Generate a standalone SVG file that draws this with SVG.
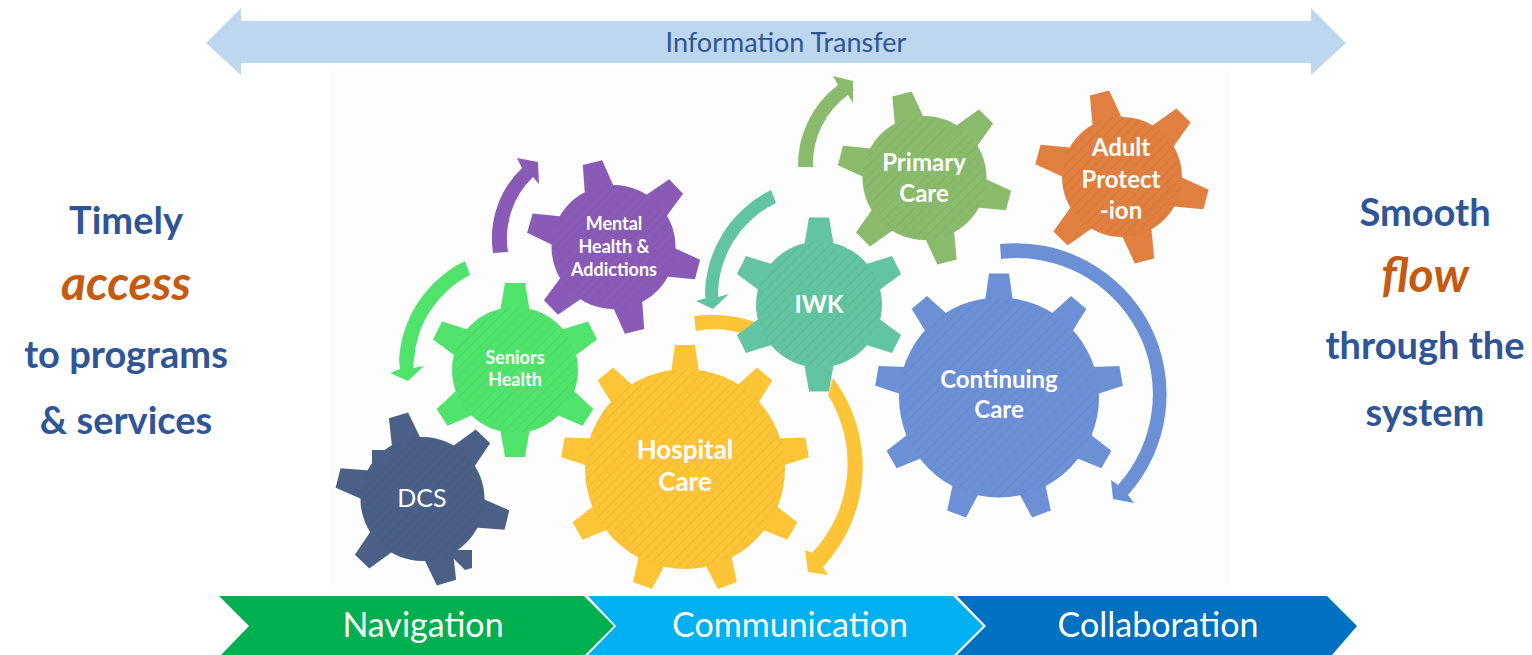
<svg xmlns="http://www.w3.org/2000/svg" xmlns:xlink="http://www.w3.org/1999/xlink" width="1532" height="655" viewBox="0 0 1532 655">
<style>
text{font-family:"Lato","Liberation Sans",sans-serif;text-anchor:middle}
.lbl{fill:#fff;font-weight:700}
.side{fill:#2f5597;font-weight:700;font-size:38px}
.em{fill:#c55a11;font-weight:700;font-style:italic;font-size:48px}
.band{fill:#fff;font-size:34px}
.hatch{fill:url(#hatch)}
</style>
<defs>
<pattern id="hatch" width="7" height="7" patternUnits="userSpaceOnUse" patternTransform="rotate(45)"><line x1="0" y1="0" x2="0" y2="7" stroke="#000" stroke-opacity=".06" stroke-width="1.5"/></pattern>
<polygon id="ts" points="-15,-58 -10,-87 10,-87 15,-58"/>
<polygon id="tb" points="-14,-96 -10,-124 10,-124 14,-96"/>
</defs>
<rect width="1532" height="655" fill="#fff"/>
<rect x="330" y="65" width="900" height="525" fill="#fdfdfd"/>

<g id="info-transfer">
<polygon points="206,43 241,8 241,21 1311,21 1311,8 1346,43 1311,75 1311,63 241,63 241,75" fill="#bdd7ee"/>
<text x="786" y="52" font-size="27" fill="#2f5597">Information Transfer</text>
</g>

<g id="connectors">
<path fill="#8a5bb6" d="M493,253 A97,97 0 0 1 522,168 L517,158 L538,162 L539,184 L533,177 A85,85 0 0 0 508,252 Z"/>
<path fill="#50e36c" d="M465,261 A118,118 0 0 0 399,360 L400,369 L390,373 L408,381 L424,366 L413,368 L414,360 A103,103 0 0 1 470,275 Z"/>
<path fill="#62c4a0" d="M771,190 A118,118 0 0 0 705,296 L706,298 L696,301 L713,309 L729,294 L718,297 A103,103 0 0 1 776,203 Z"/>
<path fill="#fdc438" d="M694,316 Q725,312 755,322 L743,334 Q720,326 696,331 Z"/>
<path fill="#fdc438" d="M833,378 A147,147 0 0 1 823,567 L828,575 L808,572 L805,550 L812,553 A130,130 0 0 0 828,395 Z"/>
<path fill="#6b90d6" d="M1000,244 A151,151 0 0 1 1128,495 L1134,503 L1113,499 L1111,480 L1118,485 A136,136 0 0 0 1001,259 Z"/>
<path fill="#8abb6c" d="M798,167 A100,100 0 0 1 838,85 L833,76 L853,81 L853,103 L848,95 A85,85 0 0 0 813,167 Z"/>
</g>

<g id="gear-dcs" fill="#4a6087">
<g transform="translate(422.5,499)"><circle r="62"/><use href="#ts" transform="rotate(-16)"/><use href="#ts" transform="rotate(44)"/><use href="#ts" transform="rotate(104)"/><use href="#ts" transform="rotate(164)"/><use href="#ts" transform="rotate(224)"/><use href="#ts" transform="rotate(284)"/><circle r="62" class="hatch"/></g>
<polygon points="372,450 372,470 395,450 390,450"/><polygon points="472,550 445,550 465,570 472,568"/>
<text x="422" y="507" font-size="25" class="lbl" style="font-weight:400">DCS</text>
</g>

<g id="gear-seniors" fill="#50e36c">
<g transform="translate(515,370)"><circle r="63"/><use href="#ts" transform="rotate(0)"/><use href="#ts" transform="rotate(63)"/><use href="#ts" transform="rotate(123)"/><use href="#ts" transform="rotate(180)"/><use href="#ts" transform="rotate(237)"/><use href="#ts" transform="rotate(297)"/><circle r="63" class="hatch"/></g>
<text class="lbl" font-size="18" text-anchor="middle"><tspan x="515" y="364">Seniors</tspan><tspan x="515" y="386">Health</tspan></text>
</g>

<g id="gear-mental" fill="#8a5bb6">
<g transform="translate(613.5,247)"><circle r="62"/><use href="#ts" transform="rotate(-14)"/><use href="#ts" transform="rotate(46)"/><use href="#ts" transform="rotate(105)"/><use href="#ts" transform="rotate(166)"/><use href="#ts" transform="rotate(226)"/><use href="#ts" transform="rotate(286)"/><circle r="62" class="hatch"/></g>
<text class="lbl" font-size="18"><tspan x="614" y="230">Mental</tspan><tspan x="614" y="253">Health &amp;</tspan><tspan x="614" y="276">Addictions</tspan></text>
</g>

<g id="gear-hospital" fill="#fdc438">
<g transform="translate(685,469)"><circle r="100"/><use href="#tb" transform="rotate(0)"/><use href="#tb" transform="rotate(40)"/><use href="#tb" transform="rotate(80)"/><use href="#tb" transform="rotate(120)"/><use href="#tb" transform="rotate(160)"/><use href="#tb" transform="rotate(200)"/><use href="#tb" transform="rotate(240)"/><use href="#tb" transform="rotate(280)"/><use href="#tb" transform="rotate(320)"/><circle r="100" class="hatch"/></g>
<text class="lbl" font-size="26"><tspan x="685" y="459">Hospital</tspan><tspan x="685" y="491">Care</tspan></text>
</g>

<g id="gear-iwk" fill="#62c4a0">
<g transform="translate(819,304.5)"><circle r="63"/><use href="#ts" transform="rotate(0)"/><use href="#ts" transform="rotate(63)"/><use href="#ts" transform="rotate(117)"/><use href="#ts" transform="rotate(180)"/><use href="#ts" transform="rotate(243)"/><use href="#ts" transform="rotate(297)"/><circle r="63" class="hatch"/></g>
<text class="lbl" x="819" y="313" font-size="24">IWK</text>
</g>

<g id="gear-primary" fill="#8abb6c">
<g transform="translate(924.5,178)"><circle r="62"/><use href="#ts" transform="rotate(-15)"/><use href="#ts" transform="rotate(45)"/><use href="#ts" transform="rotate(105)"/><use href="#ts" transform="rotate(165)"/><use href="#ts" transform="rotate(225)"/><use href="#ts" transform="rotate(285)"/><circle r="62" class="hatch"/></g>
<text class="lbl" font-size="24"><tspan x="924" y="171">Primary</tspan><tspan x="924" y="202">Care</tspan></text>
</g>

<g id="gear-adult" fill="#e07f3f">
<g transform="translate(1122,177)"><circle r="60"/><use href="#ts" transform="rotate(-15)"/><use href="#ts" transform="rotate(45)"/><use href="#ts" transform="rotate(105)"/><use href="#ts" transform="rotate(165)"/><use href="#ts" transform="rotate(225)"/><use href="#ts" transform="rotate(285)"/><circle r="60" class="hatch"/></g>
<text class="lbl" font-size="24"><tspan x="1121" y="156">Adult</tspan><tspan x="1121" y="188">Protect</tspan><tspan x="1121" y="219">-ion</tspan></text>
</g>

<g id="gear-continuing" fill="#6b90d6">
<g transform="translate(999,397.5)"><circle r="100"/><use href="#tb" transform="rotate(0)"/><use href="#tb" transform="rotate(40)"/><use href="#tb" transform="rotate(80)"/><use href="#tb" transform="rotate(120)"/><use href="#tb" transform="rotate(160)"/><use href="#tb" transform="rotate(200)"/><use href="#tb" transform="rotate(240)"/><use href="#tb" transform="rotate(280)"/><use href="#tb" transform="rotate(320)"/><circle r="100" class="hatch"/></g>
<text class="lbl" font-size="24"><tspan x="999" y="388">Continuing</tspan><tspan x="999" y="418">Care</tspan></text>
</g>

<g id="band-navigation">
<polygon points="219,596 584,596 614,626 585,655 221,655 249,626" fill="#00b050"/>
<text class="band" x="423" y="637">Navigation</text>
</g>
<g id="band-communication">
<polygon points="588,596 953,596 983,626 954,655 588,655 616,626" fill="#00b0f0"/>
<text class="band" x="790" y="637">Communication</text>
</g>
<g id="band-collaboration">
<polygon points="957,596 1327,596 1357,626 1332,655 957,655 986,626" fill="#0070c0"/>
<text class="band" x="1158" y="637">Collaboration</text>
</g>

<g id="text-left">
<text class="side" x="126" y="234">Timely</text>
<text class="em" x="126" y="300">access</text>
<text class="side" x="126" y="368">to programs</text>
<text class="side" x="126" y="434">&amp; services</text>
</g>
<g id="text-right">
<text class="side" x="1425" y="226">Smooth</text>
<text class="em" x="1425" y="292">flow</text>
<text class="side" x="1425" y="359">through the</text>
<text class="side" x="1425" y="426">system</text>
</g>
</svg>
